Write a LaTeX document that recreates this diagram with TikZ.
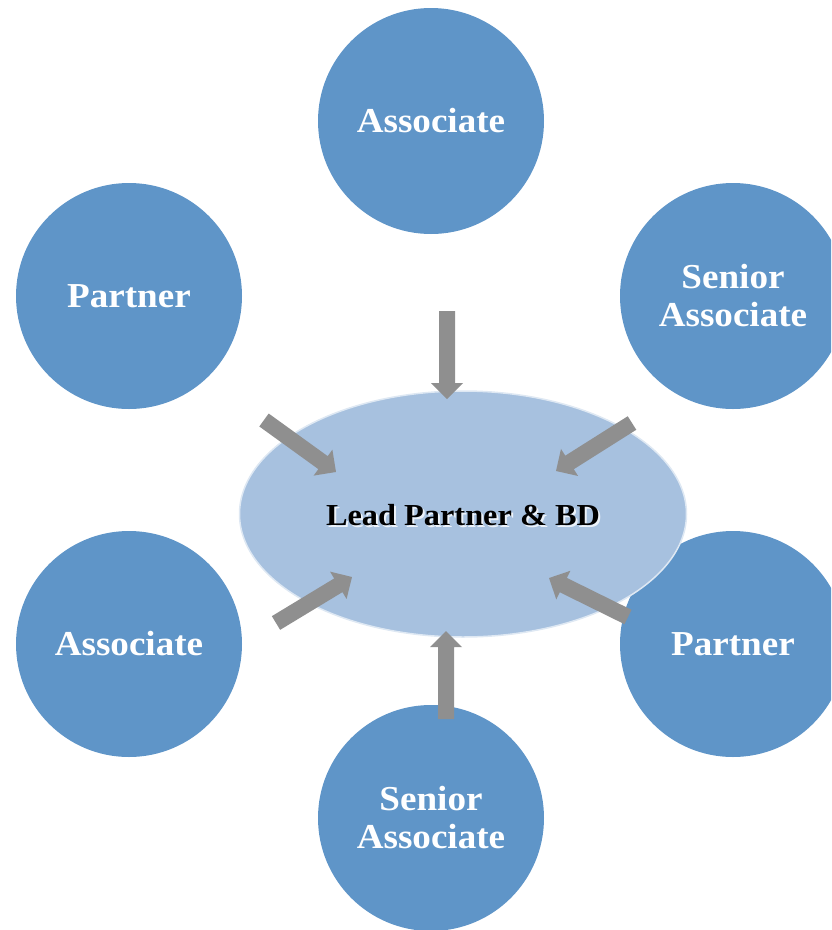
\documentclass[tikz,border=0pt]{standalone}
\usepackage{fontspec}
\setmainfont{Liberation Serif}
\newfontfamily\labelfont[FakeStretch=1.06]{Liberation Serif}
\usetikzlibrary{calc,shapes.geometric}
\definecolor{rolefill}{RGB}{95,149,200}
\definecolor{leadfill}{RGB}{167,193,223}
\definecolor{leadrim}{RGB}{222,232,243}
\definecolor{leadglow}{RGB}{236,242,249}
\definecolor{arrowgray}{RGB}{143,143,143}
\tikzset{
  role/.style={circle, fill=rolefill, minimum size=226pt, inner sep=0pt,
    text=white, font=\labelfont\fontsize{35}{38}\selectfont\bfseries, align=center},
  lead/.style={ellipse, fill=leadfill, draw=leadrim, line width=1.5pt,
    minimum width=447pt, minimum height=246pt, inner sep=0pt},
  leadlabel/.style={font=\labelfont\fontsize{30.5}{34}\selectfont\bfseries}
}
% text with a light offset shadow set behind it
\newcommand\shadowtext[1]{%
  \rlap{\kern2pt\raisebox{-2pt}{\textcolor{leadglow}{#1}}}#1}
% block arrow from coordinate #1 to tip #2: shaft 16pt, head 32pt wide, 16pt long
\newcommand\blockarrow[2]{%
  \fill[arrowgray] let \p1=(#1), \p2=(#2),
      \n1={atan2(\y2-\y1,\x2-\x1)}, \n2={veclen(\x2-\x1,\y2-\y1)} in
    [shift={(\p1)}, rotate=\n1]
    (0pt,-8pt) -- (\n2-16pt,-8pt) -- (\n2-16pt,-16pt) -- (\n2,0pt)
    -- (\n2-16pt,16pt) -- (\n2-16pt,8pt) -- (0pt,8pt) -- cycle;}
\begin{document}
\begin{tikzpicture}[x=1pt,y=-1pt]
\useasboundingbox (0,0) rectangle (831,930);
\clip (0,0) rectangle (831,930);

% outer roles
\node[role] (topA)  at (431,121) {Associate};
\node[role] (leftP) at (129,296) {Partner};
\node[role] (rightSA) at (733,296) {Senior\\Associate};
\node[role] (leftA) at (129,644) {Associate};
\node[role] (rightP) at (733,644) {Partner};
\node[role] (botSA) at (431,818) {Senior\\Associate};

% central lead
\node[lead] (lead) at (463,514) {};
\node[leadlabel] (leadtext) at ($(lead.center)+(0,2)$) {\shadowtext{Lead Partner \& BD}};

% arrow ends
\coordinate (a1s) at (447,311); \coordinate (a1t) at (447,399);
\coordinate (a2s) at (264,420); \coordinate (a2t) at (336,472);
\coordinate (a3s) at (632,423); \coordinate (a3t) at (556,471);
\coordinate (a4s) at (276,623); \coordinate (a4t) at (352,577);
\coordinate (a5s) at (628,617); \coordinate (a5t) at (549,578);
\coordinate (a6s) at (446,719); \coordinate (a6t) at (446,631);

\blockarrow{a1s}{a1t}
\blockarrow{a2s}{a2t}
\blockarrow{a3s}{a3t}
\blockarrow{a4s}{a4t}
\blockarrow{a5s}{a5t}
\blockarrow{a6s}{a6t}
\end{tikzpicture}
\end{document}
